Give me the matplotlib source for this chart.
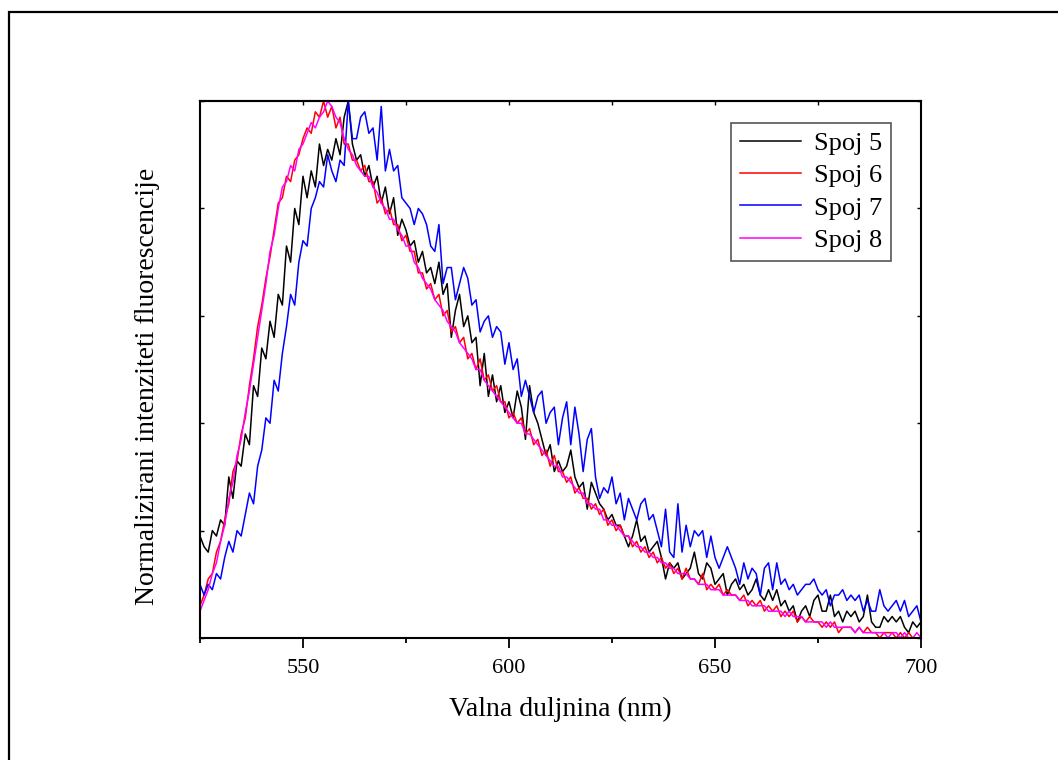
import matplotlib
matplotlib.use("Agg")
import matplotlib.pyplot as plt
from matplotlib.patches import Rectangle
import numpy as np

plt.rcParams['font.family'] = ['Liberation Serif', 'DejaVu Serif']

# valna duljina, korak 1 nm
wavelength = list(range(525, 701))

# normalizirani intenziteti (u %), ocitano sa slike
spoj5 = [19, 17, 16, 20, 19, 22, 21, 30, 26, 33,
         32, 38, 36, 47, 45, 54, 52, 59, 56, 64,
         62, 73, 70, 80, 77, 86, 82, 87, 84, 92,
         88, 91, 89, 93, 90, 97, 100, 92, 89, 90,
         86, 88, 84, 86, 81, 84, 79, 82, 75, 78,
         76, 73, 74, 70, 72, 68, 69, 66, 70, 64,
         66, 56, 61, 64, 58, 60, 55, 56, 47, 53,
         45, 49, 44, 47, 42, 44, 41, 46, 43, 37,
         47, 42, 40, 37, 34, 36, 31, 33, 31, 32,
         35, 30, 28, 29, 24, 29, 27, 25, 24, 22,
         23, 21, 21, 19, 17, 19, 22, 18, 19, 16,
         17, 18, 15, 11, 14, 13, 14, 11, 12, 13,
         16, 12, 11, 14, 13, 10, 11, 12, 8, 10,
         11, 9, 10, 8, 9, 11, 8, 7, 9, 7,
         9, 6, 7, 5, 6, 3, 5, 6, 4, 7,
         8, 5, 5, 8, 4, 5, 3, 5, 4, 5,
         3, 4, 8, 3, 2, 2, 4, 3, 4, 3,
         4, 2, 1, 3, 2, 3]

spoj6 = [6, 8, 11, 12, 16, 18, 22, 25, 31, 33,
         38, 41, 47, 52, 58, 62, 67, 71, 76, 81,
         82, 86, 85, 89, 90, 93, 95, 94, 98, 97,
         100, 97, 99, 95, 97, 92, 92, 89, 89, 87,
         88, 85, 85, 81, 82, 79, 80, 77, 77, 74,
         75, 72, 72, 68, 68, 65, 66, 63, 64, 60,
         61, 57, 58, 55, 56, 52, 53, 50, 52, 48,
         49, 46, 47, 44, 44, 41, 42, 40, 41, 38,
         39, 36, 37, 34, 35, 32, 34, 31, 31, 29,
         30, 27, 28, 26, 26, 24, 25, 23, 24, 21,
         22, 20, 21, 19, 19, 17, 18, 16, 17, 15,
         16, 14, 15, 13, 14, 12, 13, 11, 13, 11,
         11, 10, 12, 9, 10, 9, 10, 8, 9, 8,
         8, 7, 8, 6, 7, 6, 7, 5, 6, 5,
         6, 4, 5, 4, 5, 3, 4, 3, 4, 3,
         3, 2, 3, 2, 3, 1, 2, 2, 2, 1,
         2, 1, 2, 1, 1, 0, 1, 1, 1, 0,
         1, 0, 1, 0, 0, 0]

spoj7 = [10, 8, 10, 9, 12, 11, 15, 18, 16, 20,
         19, 23, 27, 25, 32, 35, 41, 40, 48, 46,
         53, 58, 64, 62, 70, 74, 73, 80, 82, 85,
         84, 90, 87, 85, 89, 88, 100, 93, 93, 97,
         98, 94, 95, 89, 99, 87, 91, 87, 88, 82,
         81, 80, 77, 80, 79, 77, 73, 72, 77, 66,
         69, 69, 63, 66, 69, 67, 62, 63, 57, 59,
         60, 56, 58, 57, 51, 55, 50, 52, 45, 48,
         45, 42, 45, 46, 40, 42, 43, 36, 41, 44,
         36, 43, 38, 31, 37, 39, 30, 26, 28, 27,
         30, 25, 27, 22, 26, 24, 22, 25, 26, 22,
         23, 20, 17, 24, 16, 15, 25, 16, 21, 17,
         20, 19, 20, 15, 19, 15, 13, 15, 17, 15,
         13, 10, 14, 11, 13, 12, 8, 13, 14, 9,
         14, 10, 11, 9, 10, 8, 9, 10, 10, 11,
         9, 8, 9, 6, 8, 8, 9, 7, 8, 7,
         8, 5, 7, 5, 5, 9, 6, 5, 6, 7,
         5, 7, 4, 5, 6, 3]

spoj8 = [5, 7, 9, 12, 14, 18, 21, 26, 29, 34,
         37, 42, 46, 51, 56, 61, 66, 72, 75, 80,
         84, 85, 88, 87, 91, 92, 94, 96, 95, 97,
         98, 100, 99, 97, 96, 93, 91, 90, 88, 87,
         86, 86, 84, 83, 81, 80, 78, 78, 76, 75,
         73, 73, 70, 69, 67, 66, 65, 63, 62, 61,
         59, 58, 57, 55, 54, 53, 52, 50, 50, 48,
         47, 46, 45, 44, 43, 42, 41, 40, 40, 38,
         38, 37, 36, 35, 34, 33, 32, 32, 30, 30,
         29, 28, 27, 27, 25, 25, 24, 24, 22, 22,
         21, 21, 20, 19, 19, 18, 17, 17, 16, 16,
         15, 15, 14, 14, 13, 13, 12, 12, 12, 11,
         11, 10, 10, 10, 9, 9, 9, 8, 8, 8,
         8, 7, 7, 7, 6, 6, 6, 6, 5, 5,
         5, 5, 4, 5, 4, 4, 4, 3, 3, 3,
         3, 3, 2, 3, 2, 2, 2, 2, 2, 1,
         2, 1, 1, 1, 1, 1, 1, 0, 1, 1,
         0, 1, 0, 0, 1, 0]

labels = ['Spoj 5', 'Spoj 6', 'Spoj 7', 'Spoj 8']
colors = ['black', 'red', 'blue', '#ff00ff']

fig = plt.figure(figsize=(10.58, 7.6), dpi=100)
ax = fig.add_axes([0.189, 0.1605, 0.6815, 0.7065])

for series, label, color in zip([spoj5, spoj6, spoj7, spoj8], labels, colors):
    ax.plot(wavelength, np.array(series) / 100.0, color=color, lw=1.1, label=label)

ax.set_xlim(525, 700)
ax.set_ylim(0, 1.0)
ax.set_xticks([550, 600, 650, 700])
ax.set_xticks([525, 575, 625, 675], minor=True)
ax.set_yticks(np.arange(0, 1.01, 0.2))
ax.set_yticklabels([])
ax.tick_params(axis='x', which='major', direction='out', length=7, width=1.3,
               labelsize=16, pad=8)
ax.tick_params(axis='x', which='minor', direction='out', length=3.5, width=1.3)
ax.tick_params(axis='y', which='major', direction='in', length=3, width=1,
               left=True, right=True)

# gornja os: samo kratke crtice prema unutra
top = ax.secondary_xaxis('top')
top.set_xticks([550, 575, 600, 625, 650, 675])
top.tick_params(direction='in', length=3, width=1, labeltop=False)
top.spines['top'].set_linewidth(1.5)

for s in ax.spines.values():
    s.set_linewidth(1.5)

ax.set_xlabel('Valna duljnina (nm)', fontsize=20, labelpad=14)
ax.set_ylabel('Normalizirani intenziteti fluorescencije', fontsize=20)
ax.yaxis.set_label_coords(-0.055, 0.468)

leg = ax.legend(loc='upper right', bbox_to_anchor=(0.958, 0.959), borderaxespad=0,
                fontsize=19, fancybox=False, edgecolor='#555555', framealpha=1,
                handlelength=2.3, handletextpad=0.5, labelspacing=0.33,
                borderpad=0.33)
leg.get_frame().set_linewidth(1.2)

# okvir oko slike
fig.patches.append(Rectangle((9 / 1058, -0.1), 1.2, 1.1 - 12 / 760,
                             transform=fig.transFigure, fill=False,
                             edgecolor='black', lw=1.6, clip_on=False))

fig.savefig('out.png', dpi=100)
